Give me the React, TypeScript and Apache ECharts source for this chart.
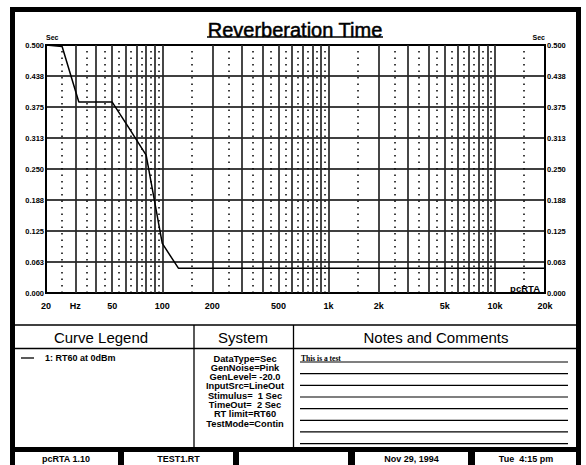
import React, { useEffect, useRef } from 'react';
import * as echarts from 'echarts';

// ---------- data ----------
const frequencies = [20, 25, 31.5, 40, 50, 63, 80, 100, 125, 160, 200, 250, 315, 400, 500, 630, 800, 1000, 1250, 1600, 2000, 2500, 3150, 4000, 5000, 6300, 8000, 10000, 12500, 16000, 20000];
const rt60Values = [0.5, 0.497, 0.385, 0.385, 0.385, 0.333, 0.278, 0.1, 0.05, 0.05, 0.05, 0.05, 0.05, 0.05, 0.05, 0.05, 0.05, 0.05, 0.05, 0.05, 0.05, 0.05, 0.05, 0.05, 0.05, 0.05, 0.05, 0.05, 0.05, 0.05, 0.05];
const xTickValues = [20, 30, 50, 100, 200, 500, 1000, 2000, 5000, 10000, 20000];
const xTickLabels = ['20', 'Hz', '50', '100', '200', '500', '1k', '2k', '5k', '10k', '20k'];
const yTickLabels = ['0.000', '0.063', '0.125', '0.188', '0.250', '0.313', '0.375', '0.438', '0.500'];
const solidGridFreqs = [30, 40, 50, 60, 70, 80, 90, 100, 200, 300, 400, 500, 600, 700, 800, 900, 1000, 2000, 3000, 4000, 5000, 6000, 7000, 8000, 9000, 10000];
const dottedGridFreqs = [25, 35, 45, 55, 65, 75, 85, 95, 150, 250, 350, 450, 550, 650, 750, 850, 950, 1500, 2500, 3500, 4500, 5500, 6500, 7500, 8500, 9500, 15000];
const legendEntries = ['1: RT60 at 0dBm'];
const systemLines = ['DataType=Sec', 'GenNoise=Pink', 'GenLevel= -20.0', 'InputSrc=LineOut', 'Stimulus=  1 Sec', 'TimeOut=  2 Sec', 'RT limit=RT60', 'TestMode=Contin'];
const notesText = 'This is a test';
const footerTexts = ['pcRTA 1.10', 'TEST1.RT', '', 'Nov 29, 1994', 'Tue  4:15 pm'];

const FONT = '"Liberation Sans", Arial, sans-serif';

function labelFor(v: number): string {
  for (let i = 0; i < xTickValues.length; i++) {
    if (Math.abs(v / xTickValues[i] - 1) < 1e-6) return xTickLabels[i];
  }
  return '';
}

function buildOption(): any {
  const graphics: any[] = [];
  // outer border
  graphics.push({ type: 'rect', shape: { x: 12.5, y: 9.5, width: 566, height: 470 }, style: { fill: 'none', stroke: '#000', lineWidth: 5 }, z: 10 });
  // title
  graphics.push({ type: 'text', x: 295, y: 29.5, style: { text: 'Reverberation Time', fontSize: 20, fontFamily: FONT, fill: '#000', stroke: '#000', lineWidth: 0.5, align: 'center', verticalAlign: 'middle' } });
  graphics.push({ type: 'line', shape: { x1: 207, y1: 37, x2: 383, y2: 37 }, style: { stroke: '#000', lineWidth: 1.6 } });
  // pcRTA inside plot
  graphics.push({ type: 'text', x: 540, y: 288, style: { text: 'pcRTA', fontSize: 9.5, fontWeight: 'bold', fontFamily: FONT, fill: '#000', align: 'right', verticalAlign: 'middle' }, z: 10 });

  // lower panel lines
  const L = (x1: number, y1: number, x2: number, y2: number, w = 1.3) =>
    graphics.push({ type: 'line', shape: { x1, y1, x2, y2 }, style: { stroke: '#000', lineWidth: w } });
  L(12, 325, 579, 325);
  L(12, 348.5, 579, 348.5);
  L(194, 325, 194, 447);
  L(293.5, 325, 293.5, 447);

  const T = (text: string, x: number, y: number, size: number, bold: boolean, align = 'center', family = FONT) =>
    graphics.push({ type: 'text', x, y, style: { text, fontSize: size, fontWeight: bold ? 'bold' : 'normal', fontFamily: family, fill: '#000', align, verticalAlign: 'middle' } });

  T('Curve Legend', 101, 337, 15, false);
  T('System', 243, 337, 15, false);
  T('Notes and Comments', 436, 337, 15, false);

  legendEntries.forEach((e, i) => {
    L(21, 358 + i * 10, 34, 358 + i * 10, 1.3);
    T(e, 45, 358 + i * 10, 9, true, 'left');
  });
  systemLines.forEach((s, i) => T(s, 245, 358.5 + i * 9.3, 9.3, true));

  T(notesText, 301, 358, 7.5, true, 'left', '"Liberation Serif", serif');
  for (let i = 0; i < 8; i++) L(300, 362 + i * 11.66, 568, 362 + i * 11.66, 1.2);

  // footer
  graphics.push({ type: 'rect', shape: { x: 12, y: 447, width: 567, height: 5 }, style: { fill: '#000' } });
  const seps = [[118, 124], [233, 239], [348, 355], [468, 475]];
  seps.forEach(([a, b]) => graphics.push({ type: 'rect', shape: { x: a, y: 447, width: b - a, height: 20 }, style: { fill: '#000' } }));
  const bounds = [14, 118, 124, 233, 239, 348, 355, 468, 475, 577];
  footerTexts.forEach((t, i) => {
    if (!t) return;
    const cx = (bounds[i * 2] + bounds[i * 2 + 1]) / 2;
    T(t, cx, 458.5, 9, true);
  });

  const yLabelStyle = { fontSize: 7.5, fontWeight: 'bold', fontFamily: FONT, color: '#000' };

  return {
    animation: false,
    backgroundColor: '#fff',
    grid: { left: 46, right: 41, top: 45, bottom: 172, show: true, borderColor: '#000', borderWidth: 2, backgroundColor: 'transparent' },
    xAxis: {
      type: 'log',
      logBase: 10,
      min: 20,
      max: 20000,
      axisLine: { show: true, lineStyle: { color: '#000', width: 2 } },
      axisTick: { show: false },
      splitLine: { show: false },
      axisLabel: {
        customValues: xTickValues,
        formatter: (v: number) => labelFor(v),
        fontSize: 9,
        fontWeight: 'bold',
        fontFamily: FONT,
        color: '#000',
        margin: 8,
      },
    },
    yAxis: [
      {
        type: 'value',
        min: 0,
        max: 0.5,
        interval: 0.0625,
        name: 'Sec',
        nameLocation: 'end',
        nameGap: 3,
        nameTextStyle: { align: 'left', fontSize: 7, fontWeight: 'bold', fontFamily: FONT, color: '#000' },
        axisLine: { show: true, lineStyle: { color: '#000', width: 2 } },
        axisTick: { show: false },
        splitLine: { show: true, lineStyle: { color: '#000', width: 1.5 } },
        axisLabel: { ...yLabelStyle, margin: 2, formatter: (v: number) => yTickLabels[Math.round(v / 0.0625)] },
      },
      {
        type: 'value',
        position: 'right',
        min: 0,
        max: 0.5,
        interval: 0.0625,
        name: 'Sec',
        nameLocation: 'end',
        nameGap: 3,
        nameTextStyle: { align: 'right', fontSize: 7, fontWeight: 'bold', fontFamily: FONT, color: '#000' },
        axisLine: { show: true, lineStyle: { color: '#000', width: 2 } },
        axisTick: { show: false },
        splitLine: { show: false },
        axisLabel: { ...yLabelStyle, margin: 2, formatter: (v: number) => yTickLabels[Math.round(v / 0.0625)] },
      },
    ],
    series: [
      {
        type: 'line',
        data: [],
        z: 1,
        silent: true,
        markLine: {
          silent: true,
          symbol: ['none', 'none'],
          label: { show: false },
          lineStyle: { color: '#262626', width: 1.7, type: 'solid' },
          data: solidGridFreqs.map((f) => ({ xAxis: f })),
        },
      },
      {
        type: 'line',
        data: [],
        z: 1,
        silent: true,
        markLine: {
          silent: true,
          symbol: ['none', 'none'],
          label: { show: false },
          lineStyle: { color: '#000', width: 1.5, type: [1.5, 5] },
          data: dottedGridFreqs.map((f) => ({ xAxis: f })),
        },
      },
      {
        name: 'RT60',
        type: 'line',
        z: 5,
        symbol: 'none',
        lineStyle: { color: '#000', width: 1.5 },
        data: frequencies.map((f, i) => [f, rt60Values[i]]),
      },
    ],
    graphic: { elements: graphics },
  };
}

export default function App() {
  const ref = useRef<HTMLDivElement>(null);
  useEffect(() => {
    const chart = echarts.init(ref.current as HTMLDivElement, null, { renderer: 'svg' });
    chart.setOption(buildOption());
    return () => chart.dispose();
  }, []);
  return <div ref={ref} style={{ position: 'fixed', left: 0, top: 0, width: 586, height: 465, background: '#fff' }} />;
}
